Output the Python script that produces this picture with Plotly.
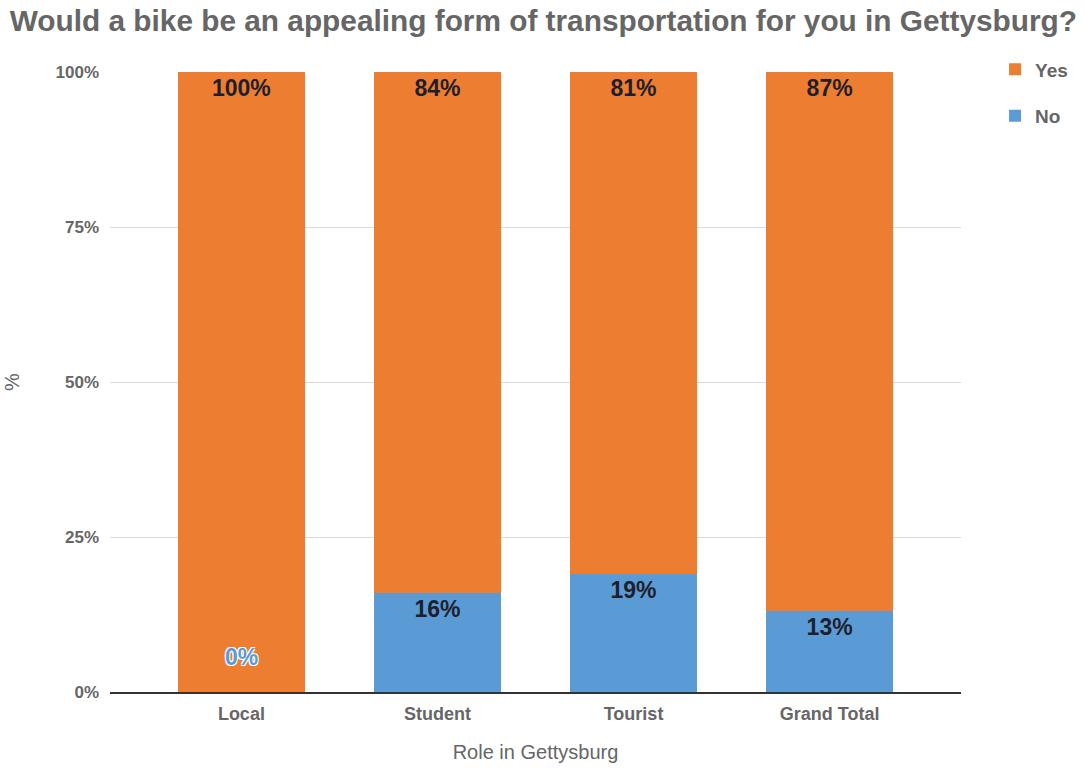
import plotly.graph_objects as go

categories = ["Local", "Student", "Tourist", "Grand Total"]
yes_pct = [100, 84, 81, 87]
no_pct = [0, 16, 19, 13]
y_ticks = [0, 25, 50, 75, 100]
y_tick_labels = ["0%", "25%", "50%", "75%", "100%"]

ORANGE = "#ed7d31"
BLUE = "#5b9bd5"
GREY = "#666666"
FONT = "Liberation Sans, Arial, sans-serif"

label_font = dict(family=FONT, size=23, color="#1f1f2b", weight="bold")

fig = go.Figure()

# "No" segment sits at the bottom of each stack
fig.add_trace(go.Bar(
    x=categories, y=no_pct, name="No", marker_color=BLUE,
    marker_line_width=0, legendrank=2, legendgroup="no",
    text=[f"{v}%" if v > 0 else "" for v in no_pct],
    textposition="inside", insidetextanchor="end",
    textfont=label_font, textangle=0,
))
fig.add_trace(go.Bar(
    x=categories, y=yes_pct, name="Yes", marker_color=ORANGE,
    marker_line_width=0, legendrank=1, legendgroup="yes",
    text=[f"{v}%" for v in yes_pct],
    textposition="inside", insidetextanchor="end",
    textfont=label_font, textangle=0,
))

# zero-height segments get their label floated just above the baseline
for cat, v in zip(categories, no_pct):
    if v == 0:
        fig.add_annotation(
            x=cat, y=v, yshift=35, text=f"{v}%", showarrow=False,
            font=dict(family=FONT, size=23, color=BLUE, weight="bold",
                      shadow="1px 1px 0 #fff, -1px -1px 0 #fff, 1px -1px 0 #fff, -1px 1px 0 #fff"),
        )

fig.update_layout(
    barmode="stack",
    bargap=0.355,
    width=1085, height=773,
    margin=dict(l=110, r=120, t=72, b=81),
    paper_bgcolor="white", plot_bgcolor="white",
    title=dict(
        text="Would a bike be an appealing form of transportation for you in Gettysburg?",
        x=0.009, xanchor="left", y=0.974, yanchor="middle",
        font=dict(family=FONT, size=29.8, color=GREY, weight="bold"),
    ),
    legend=dict(
        x=1.04, xanchor="left", y=1.035, yanchor="top",
        traceorder="grouped", tracegroupgap=19,
        font=dict(family=FONT, size=19, color=GREY, weight="bold"),
        itemwidth=30,
    ),
    xaxis=dict(
        range=[-0.67, 3.67],
        showline=True, linecolor="#333333", linewidth=1.5,
        tickfont=dict(family=FONT, size=18, color=GREY, weight="bold"),
        ticks="", ticklabelstandoff=5,
        title=dict(text="Role in Gettysburg", font=dict(family=FONT, size=20, color=GREY),
                   standoff=22),
    ),
    yaxis=dict(
        range=[0, 100],
        tickvals=y_ticks, ticktext=y_tick_labels,
        gridcolor="#d9d9d9", gridwidth=1,
        zeroline=False, showline=False,
        tickfont=dict(family=FONT, size=17, color=GREY, weight="bold"),
        ticks="", ticklabelstandoff=10,
        title=dict(text="%", font=dict(family=FONT, size=20, color=GREY), standoff=30),
    ),
)

fig.write_html("out.html")
